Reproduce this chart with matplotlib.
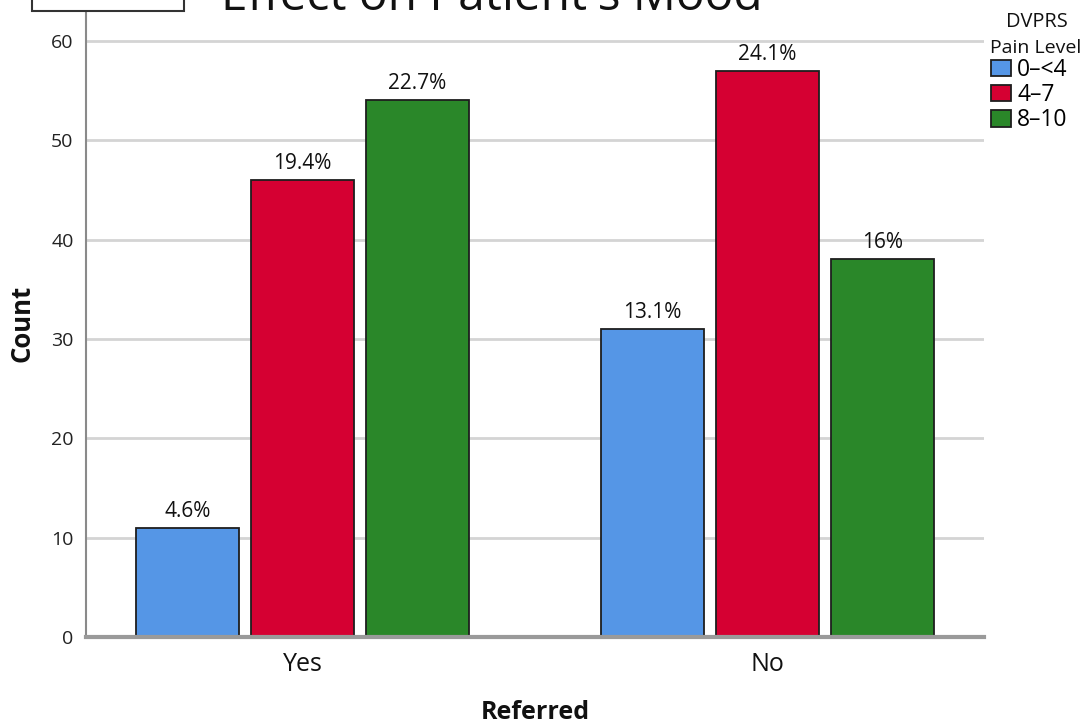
import numpy as np
import matplotlib
matplotlib.use("Agg")
import matplotlib.pyplot as plt
from matplotlib.patches import Rectangle

plt.rcParams['font.family'] = ['Open Sans', 'DejaVu Sans']

# data
groups = ["Yes", "No"]
levels = ["0–<4", "4–7", "8–10"]
counts = {
    "0–<4": [11, 31],
    "4–7": [46, 57],
    "8–10": [54, 38],
}
pct_labels = {
    "0–<4": ["4.6%", "13.1%"],
    "4–7": ["19.4%", "24.1%"],
    "8–10": ["22.7%", "16%"],
}
colors = ["#5596E6", "#D50032", "#2A8729"]

W, H = 1086, 725
fig = plt.figure(figsize=(W / 100, H / 100), dpi=100)
ax = fig.add_axes([86 / W, 88 / H, 898 / W, 626 / H])

x = np.arange(len(groups))
step = 0.2473
width = 0.2215
handles = []
for i, lvl in enumerate(levels):
    pos = x + (i - 1) * step
    b = ax.bar(pos, counts[lvl], width, color=colors[i], edgecolor="#1e1e1e",
               linewidth=1.3, label=lvl, zorder=3)
    handles.append(b)
    for px, v, t in zip(pos, counts[lvl], pct_labels[lvl]):
        ax.annotate(t, (px, v), xytext=(0, 8), textcoords="offset points",
                    ha="center", va="baseline", fontsize=15, color="#111111")

ax.set_xlim(-0.466, 1.466)
ax.set_ylim(0, 63)
ax.set_yticks(np.arange(0, 61, 10))
ax.set_xticks(x)
ax.set_xticklabels(groups, fontsize=18)
ax.tick_params(axis="y", length=0, pad=9, labelsize=14, labelcolor="#222222")
ax.tick_params(axis="x", length=0, pad=11, labelcolor="#111111")
ax.grid(axis="y", color="#d4d4d4", linewidth=2, zorder=0)
ax.set_axisbelow(True)
for s in ["top", "right"]:
    ax.spines[s].set_visible(False)
ax.spines["left"].set_color("#8a8a8a")
ax.spines["left"].set_linewidth(1.5)
ax.spines["bottom"].set_color("#9a9a9a")
ax.spines["bottom"].set_linewidth(3)
ax.spines["bottom"].set_zorder(4)

fig.text(22 / W, 1 - 323 / H, "Count", rotation=90, ha="center", va="center",
         fontsize=18.5, fontweight="bold", color="#111111")
fig.text(535 / W, 1 - 719 / H, "Referred", ha="center", va="baseline",
         fontsize=18, fontweight="bold", color="#111111")

# title, cut off at the top edge like the reference
fig.text(492 / W, 1 - 10 / H, "Effect on Patient's Mood", ha="center",
         va="baseline", fontsize=34.5, color="#111111")
fig.patches.append(Rectangle((32 / W, 1 - 11 / H), 152 / W, 0.05,
                             transform=fig.transFigure, facecolor="white",
                             edgecolor="#333333", linewidth=1.5))

# legend
fig.text(1037 / W, 1 - 27 / H, "DVPRS", ha="center", va="baseline",
         fontsize=14.4, color="#111111")
fig.text(990 / W, 1 - 53 / H, "Pain Level", ha="left", va="baseline",
         fontsize=14, color="#111111")
fig.legend(handles=handles, labels=levels, loc="upper left",
           bbox_to_anchor=(991 / W, 1 - 58 / H), frameon=False, fontsize=16.5,
           handlelength=0.87, handleheight=0.74, handletextpad=0.28,
           labelspacing=0.05, borderpad=0, borderaxespad=0)

fig.savefig("out.png", dpi=100)
